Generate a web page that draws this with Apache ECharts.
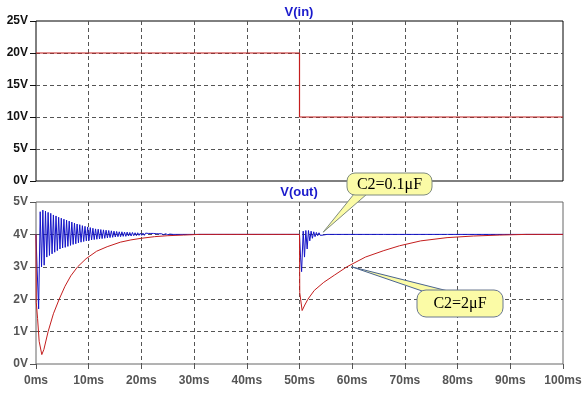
<!DOCTYPE html>
<html><head><meta charset="utf-8">
<script src="https://cdn.jsdelivr.net/npm/echarts@6/dist/echarts.min.js"></script>
<style>html,body{margin:0;padding:0;background:#fff}#c{width:585px;height:394px}</style>
</head><body><div id="c"></div>
<script>
// ---- data ----
const xTicks = [0, 10, 20, 30, 40, 50, 60, 70, 80, 90, 100]; // ms
const yTopTicks = [0, 5, 10, 15, 20, 25]; // V
const yBotTicks = [0, 1, 2, 3, 4, 5];     // V

const vinT = [0, 50, 50, 100];
const vinV = [20, 20, 10, 10];

// C2 = 2uF (red)
const c2LargeT = [0, 0.05, 0.3, 0.6, 1.1, 1.5, 2.3, 3.3, 4.4, 5.5, 6.6, 7.9, 9.5, 11.5, 13.5, 16, 18, 20, 22.5, 25, 28, 31, 50,
  50.05, 50.5, 51, 51.6, 52.8, 54.6, 56.6, 59, 62.5, 66, 69, 73, 78, 83, 88, 93, 100];
const c2LargeV = [4.0, 1.9, 1.4, 0.7, 0.29, 0.45, 1.0, 1.55, 2.0, 2.4, 2.72, 3.0, 3.25, 3.48, 3.62, 3.76, 3.83, 3.88, 3.93, 3.96, 3.98, 4.0, 4.0,
  2.2, 1.65, 1.82, 2.0, 2.27, 2.52, 2.74, 3.0, 3.3, 3.5, 3.65, 3.8, 3.9, 3.95, 3.98, 4.0, 4.0];

// C2 = 0.1uF (blue)
const c2SmallT = [0, 0.2, 0.5, 0.8, 1.05, 1.3, 1.55, 1.8, 2.05, 2.3, 2.55, 2.8, 3.05, 3.3, 3.55, 3.8, 4.05, 4.3, 4.55, 4.8,
  5.05, 5.3, 5.55, 5.8, 6.05, 6.3, 6.55, 6.8, 7.05, 7.3, 7.55, 7.8, 8.05, 8.3, 8.55, 8.8, 9.05, 9.3, 9.55, 9.8,
  10.05, 10.3, 10.55, 10.8, 11.05, 11.3, 11.55, 11.8, 12.05, 12.3, 12.55, 12.8, 13.05, 13.3, 13.55, 13.8, 14.05, 14.3, 14.55, 14.8,
  15.05, 15.3, 15.55, 15.8, 16.05, 16.3, 16.55, 16.8, 17.05, 17.3, 17.55, 17.8, 18.05, 18.3, 18.55, 18.8, 19.05, 19.3, 19.55, 19.8,
  20.05, 20.3, 20.55, 20.8, 21.05, 21.3, 21.55, 21.8, 22.05, 22.3, 22.55, 22.8, 23.05, 23.3, 23.55, 23.8, 24.2, 24.6, 25, 25.4, 26, 50,
  50.2, 50.4, 50.7, 50.95, 51.2, 51.45, 51.7, 51.95, 52.2, 52.45, 52.7, 52.95, 53.2, 53.45, 53.7, 53.95, 54.2, 54.5, 54.8, 55.2,
  66, 66.3, 66.6, 77.5, 77.8, 78.1, 100];
const c2SmallV = [4.0, 3.0, 1.7, 4.7, 3.0, 4.75, 3.05, 4.72, 3.3, 4.68, 3.35, 4.65, 3.4, 4.6, 3.45, 4.57, 3.5, 4.53, 3.55, 4.5,
  3.58, 4.47, 3.6, 4.44, 3.63, 4.41, 3.66, 4.38, 3.69, 4.35, 3.71, 4.32, 3.74, 4.3, 3.76, 4.27, 3.78, 4.25, 3.8, 4.23,
  3.81, 4.21, 3.83, 4.19, 3.84, 4.17, 3.85, 4.16, 3.86, 4.15, 3.87, 4.14, 3.88, 4.13, 3.89, 4.12, 3.9, 4.11, 3.91, 4.1,
  3.92, 4.09, 3.93, 4.08, 3.93, 4.08, 3.94, 4.07, 3.94, 4.07, 3.95, 4.06, 3.95, 4.06, 3.96, 4.05, 3.96, 4.05, 3.97, 4.04,
  3.97, 4.04, 3.97, 4.04, 3.98, 4.03, 3.98, 4.03, 3.98, 4.03, 3.98, 4.02, 3.99, 4.02, 3.99, 4.02, 3.99, 4.02, 3.99, 4.01, 4.0, 4.0,
  3.3, 2.85, 4.1, 3.3, 4.12, 3.55, 4.12, 3.8, 4.1, 3.88, 4.08, 3.93, 4.06, 3.96, 4.05, 3.97, 4.03, 3.98, 4.02, 4.0,
  4.0, 4.02, 4.0, 4.0, 4.02, 4.0, 4.0];

const titleTop = 'V(in)';
const titleBot = 'V(out)';
const note1 = { text: 'C2=0.1\u03bcF', tip: [54.5, 4.07] };
const note2 = { text: 'C2=2\u03bcF', tip: [59.9, 3.0] };

// ---- build ----
const zip = (a, b) => a.map((v, i) => [v, b[i]]);
const chart = echarts.init(document.getElementById('c'), null, { renderer: 'canvas' });
const gridDash = { color: '#555', width: 1, type: [4, 3] };
const labelFont = { fontFamily: 'Arial, "Liberation Sans", sans-serif', fontWeight: 'bold', fontSize: 12 };

function xAxis(gi, show, col) {
  return {
    type: 'value', gridIndex: gi, min: xTicks[0], max: xTicks[xTicks.length - 1], interval: xTicks[1] - xTicks[0],
    axisLine: { show: false }, axisTick: { show: show, length: 5, lineStyle: { color: col } },
    axisLabel: Object.assign({ show: show, color: col, margin: 11, formatter: '{value}ms' }, labelFont),
    splitLine: { show: true, showMinLine: false, showMaxLine: false, lineStyle: gridDash }
  };
}
function yAxis(gi, ticks, col) {
  return {
    type: 'value', gridIndex: gi, min: ticks[0], max: ticks[ticks.length - 1], interval: ticks[1] - ticks[0],
    axisLine: { show: false }, axisTick: { show: true, length: 6, lineStyle: { color: col } },
    axisLabel: Object.assign({ color: col, margin: 8, formatter: '{value}V' }, labelFont),
    splitLine: { show: true, showMinLine: false, showMaxLine: false, lineStyle: gridDash }
  };
}

chart.setOption({
  animation: false,
  backgroundColor: '#fff',
  grid: [
    { left: 36, right: 22, top: 21, height: 160, show: true, borderColor: '#000', borderWidth: 1, backgroundColor: 'transparent' },
    { left: 36, right: 22, top: 202, height: 162, show: true, borderColor: '#666', borderWidth: 1, backgroundColor: 'transparent' }
  ],
  xAxis: [xAxis(0, false, '#111'), xAxis(1, true, '#555')],
  yAxis: [yAxis(0, yTopTicks, '#111'), yAxis(1, yBotTicks, '#555')],
  series: [
    { type: 'line', xAxisIndex: 0, yAxisIndex: 0, data: zip(vinT, vinV), showSymbol: false, symbol: 'none',
      lineStyle: { color: '#c41e1e', width: 1.2 }, z: 3 },
    { type: 'line', xAxisIndex: 1, yAxisIndex: 1, data: zip(c2SmallT, c2SmallV), showSymbol: false, symbol: 'none',
      lineStyle: { color: '#1414c8', width: 1 }, z: 3 },
    { type: 'line', xAxisIndex: 1, yAxisIndex: 1, data: zip(c2LargeT, c2LargeV), showSymbol: false, symbol: 'none',
      lineStyle: { color: '#c41e1e', width: 1 }, z: 4 }
  ]
});

const tip1 = chart.convertToPixel({ gridIndex: 1 }, note1.tip);
const tip2 = chart.convertToPixel({ gridIndex: 1 }, note2.tip);
const fill = '#fbfba6';
const titleFont = 'bold 13px Arial, "Liberation Sans", sans-serif';
chart.setOption({
  graphic: [
    { type: 'text', style: { text: titleTop, x: 299, y: 12, align: 'center', verticalAlign: 'middle', fill: '#1a1acc', font: titleFont }, z: 20 },
    { type: 'text', style: { text: titleBot, x: 299, y: 192, align: 'center', verticalAlign: 'middle', fill: '#1a1acc', font: titleFont }, z: 20 },
    // callout 1
    { type: 'polygon', shape: { points: [tip1, [354, 194], [367, 194]] }, style: { fill: fill, stroke: '#808c80', lineWidth: 1 }, z: 20 },
    { type: 'rect', shape: { x: 347, y: 173, width: 85, height: 22, r: 8 }, style: { fill: fill, stroke: '#808c80', lineWidth: 1 }, z: 21 },
    { type: 'text', style: { text: note1.text, x: 389.5, y: 184.5, align: 'center', verticalAlign: 'middle', fill: '#000', font: '16px "Liberation Serif", "Times New Roman", serif' }, z: 22 },
    // callout 2
    { type: 'polygon', shape: { points: [tip2, [428, 293], [452, 292]] }, style: { fill: fill, stroke: '#4a6490', lineWidth: 1 }, z: 20 },
    { type: 'rect', shape: { x: 417, y: 290, width: 86, height: 27, r: 9 }, style: { fill: fill, stroke: '#6a7890', lineWidth: 1 }, z: 21 },
    { type: 'text', style: { text: note2.text, x: 460, y: 303.5, align: 'center', verticalAlign: 'middle', fill: '#000', font: '16px "Liberation Serif", "Times New Roman", serif' }, z: 22 }
  ]
});
</script></body></html>
